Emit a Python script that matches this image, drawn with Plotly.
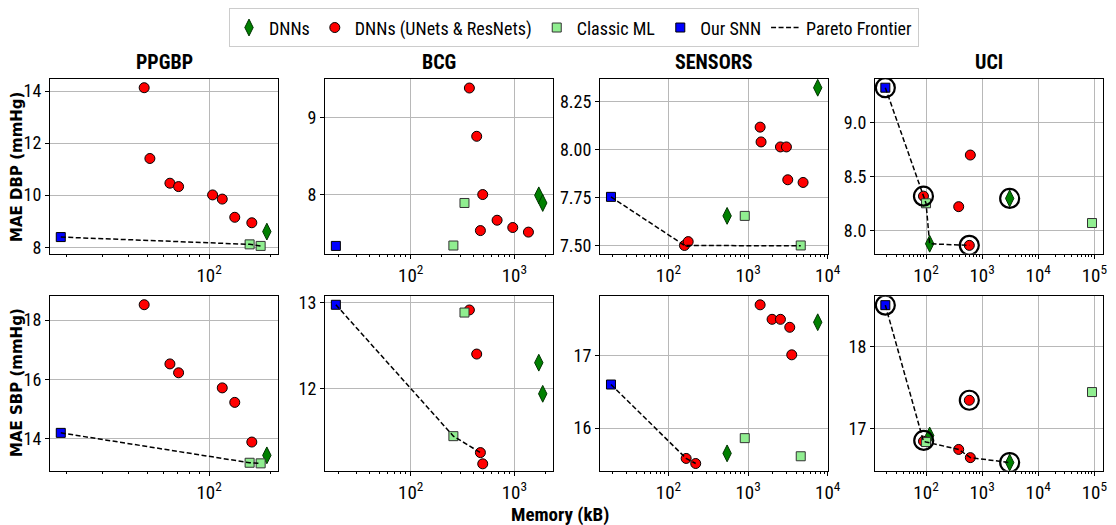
import plotly.graph_objects as go

# ---------------- data (memory in kB, MAE in mmHg) ----------------
datasets = ["PPGBP", "BCG", "SENSORS", "UCI"]

# PPGBP
ppgbp_dnn_mem = [192]
ppgbp_dnn_dbp = [8.60]
ppgbp_dnn_sbp = [13.43]
ppgbp_unet_mem_dbp = [48, 51.2, 64.2, 70.8, 104, 116, 133.6, 162]
ppgbp_unet_dbp = [14.13, 11.41, 10.46, 10.33, 10.01, 9.85, 9.15, 8.94]
ppgbp_unet_mem_sbp = [48, 64.2, 70.8, 116, 133.6, 162]
ppgbp_unet_sbp = [18.52, 16.52, 16.22, 15.71, 15.22, 13.88]
ppgbp_ml_mem = [158, 179]
ppgbp_ml_dbp = [8.11, 8.05]
ppgbp_ml_sbp = [13.18, 13.16]
ppgbp_snn_mem = [18.7]
ppgbp_snn_dbp = [8.39]
ppgbp_snn_sbp = [14.19]
ppgbp_pf_mem_dbp = [18.7, 158, 179]
ppgbp_pf_dbp = [8.39, 8.11, 8.05]
ppgbp_pf_mem_sbp = [18.7, 158, 179]
ppgbp_pf_sbp = [14.19, 13.18, 13.16]

# BCG
bcg_dnn_mem = [1718, 1875]
bcg_dnn_dbp = [7.99, 7.89]
bcg_dnn_sbp = [12.30, 11.94]
bcg_unet_mem_dbp = [368, 433, 495, 681, 964, 1365, 470]
bcg_unet_dbp = [9.39, 8.76, 8.00, 7.665, 7.57, 7.51, 7.53]
bcg_unet_mem_sbp = [368, 433, 470, 495]
bcg_unet_sbp = [12.91, 12.40, 11.26, 11.13]
bcg_ml_mem = [330, 258]
bcg_ml_dbp = [7.89, 7.335]
bcg_ml_sbp = [12.88, 11.45]
bcg_snn_mem = [19]
bcg_snn_dbp = [7.33]
bcg_snn_sbp = [12.97]
bcg_pf_mem_dbp = []
bcg_pf_dbp = []
bcg_pf_mem_sbp = [19, 258, 470]
bcg_pf_sbp = [12.97, 11.45, 11.26]

# SENSORS
sensors_dnn_mem = [7480, 545]
sensors_dnn_dbp = [8.323, 7.656]
sensors_dnn_sbp = [17.46, 15.65]
sensors_unet_mem_dbp = [1416, 1455, 2547, 3027, 3147, 4900, 159, 177]
sensors_unet_dbp = [8.118, 8.041, 8.015, 8.015, 7.844, 7.83, 7.502, 7.522]
sensors_unet_mem_sbp = [1416, 2000, 2547, 3334, 3532, 167, 220]
sensors_unet_sbp = [17.70, 17.50, 17.50, 17.39, 17.01, 15.58, 15.51]
sensors_ml_mem = [908, 4580]
sensors_ml_dbp = [7.656, 7.502]
sensors_ml_sbp = [15.86, 15.61]
sensors_snn_mem = [19]
sensors_snn_dbp = [7.755]
sensors_snn_sbp = [16.60]
sensors_pf_mem_dbp = [19, 159, 4580]
sensors_pf_dbp = [7.755, 7.502, 7.500]
sensors_pf_mem_sbp = [19, 167, 220]
sensors_pf_sbp = [16.60, 15.58, 15.51]

# UCI
uci_dnn_mem = [116, 3097]
uci_dnn_dbp = [7.882, 8.30]
uci_dnn_sbp = [16.92, 16.59]
uci_unet_mem_dbp = [90, 591, 616, 382]
uci_unet_dbp = [8.321, 7.867, 8.70, 8.224]
uci_unet_mem_sbp = [90, 591, 616, 382]
uci_unet_sbp = [16.85, 17.35, 16.65, 16.75]
uci_ml_mem = [100, 91000]
uci_ml_dbp = [8.255, 8.073]
uci_ml_sbp = [16.84, 17.45]
uci_snn_mem = [18.8]
uci_snn_dbp = [9.321]
uci_snn_sbp = [18.51]
uci_pf_mem_dbp = [18.8, 90, 100, 116, 591]
uci_pf_dbp = [9.321, 8.321, 8.255, 7.882, 7.867]
uci_pf_mem_sbp = [18.8, 90, 100, 382, 616, 3097]
uci_pf_sbp = [18.51, 16.85, 16.84, 16.75, 16.65, 16.59]
uci_ring_mem_dbp = [18.8, 90, 3097, 591]
uci_ring_dbp = [9.321, 8.321, 8.30, 7.867]
uci_ring_mem_sbp = [18.8, 91, 591, 3097]
uci_ring_sbp = [18.51, 16.86, 17.35, 16.59]

# axis ranges (log10 of memory for x)
x_ranges = [[1.219, 2.338], [1.174, 3.372], [1.141, 4.003], [1.09, 5.155]]
y_ranges_dbp = [[7.75, 14.46], [7.228, 9.506], [7.459, 8.368], [7.79, 9.40]]
y_ranges_sbp = [[12.91, 18.81], [11.05, 13.07], [15.41, 17.82], [16.49, 18.62]]
y_ticks_dbp = [[8, 10, 12, 14], [8, 9], [7.5, 7.75, 8.0, 8.25], [8.0, 8.5, 9.0]]
y_ticks_sbp = [[14, 16, 18], [12, 13], [16, 17], [17, 18]]
y_fmt_dbp = ["d", "d", ".2f", ".1f"]
y_fmt_sbp = ["d", "d", "d", "d"]

x_tick_vals = [10, 100, 1000, 10000, 100000]
x_tick_text = ["10<sup>1</sup>", "10<sup>2</sup>", "10<sup>3</sup>", "10<sup>4</sup>", "10<sup>5</sup>"]

data = {
    "PPGBP": dict(
        dnn_mem=ppgbp_dnn_mem, dnn=(ppgbp_dnn_dbp, ppgbp_dnn_sbp),
        unet_mem=(ppgbp_unet_mem_dbp, ppgbp_unet_mem_sbp), unet=(ppgbp_unet_dbp, ppgbp_unet_sbp),
        ml_mem=ppgbp_ml_mem, ml=(ppgbp_ml_dbp, ppgbp_ml_sbp),
        snn_mem=ppgbp_snn_mem, snn=(ppgbp_snn_dbp, ppgbp_snn_sbp),
        pf_mem=(ppgbp_pf_mem_dbp, ppgbp_pf_mem_sbp), pf=(ppgbp_pf_dbp, ppgbp_pf_sbp),
        ring_mem=([], []), ring=([], [])),
    "BCG": dict(
        dnn_mem=bcg_dnn_mem, dnn=(bcg_dnn_dbp, bcg_dnn_sbp),
        unet_mem=(bcg_unet_mem_dbp, bcg_unet_mem_sbp), unet=(bcg_unet_dbp, bcg_unet_sbp),
        ml_mem=bcg_ml_mem, ml=(bcg_ml_dbp, bcg_ml_sbp),
        snn_mem=bcg_snn_mem, snn=(bcg_snn_dbp, bcg_snn_sbp),
        pf_mem=(bcg_pf_mem_dbp, bcg_pf_mem_sbp), pf=(bcg_pf_dbp, bcg_pf_sbp),
        ring_mem=([], []), ring=([], [])),
    "SENSORS": dict(
        dnn_mem=sensors_dnn_mem, dnn=(sensors_dnn_dbp, sensors_dnn_sbp),
        unet_mem=(sensors_unet_mem_dbp, sensors_unet_mem_sbp), unet=(sensors_unet_dbp, sensors_unet_sbp),
        ml_mem=sensors_ml_mem, ml=(sensors_ml_dbp, sensors_ml_sbp),
        snn_mem=sensors_snn_mem, snn=(sensors_snn_dbp, sensors_snn_sbp),
        pf_mem=(sensors_pf_mem_dbp, sensors_pf_mem_sbp), pf=(sensors_pf_dbp, sensors_pf_sbp),
        ring_mem=([], []), ring=([], [])),
    "UCI": dict(
        dnn_mem=uci_dnn_mem, dnn=(uci_dnn_dbp, uci_dnn_sbp),
        unet_mem=(uci_unet_mem_dbp, uci_unet_mem_sbp), unet=(uci_unet_dbp, uci_unet_sbp),
        ml_mem=uci_ml_mem, ml=(uci_ml_dbp, uci_ml_sbp),
        snn_mem=uci_snn_mem, snn=(uci_snn_dbp, uci_snn_sbp),
        pf_mem=(uci_pf_mem_dbp, uci_pf_mem_sbp), pf=(uci_pf_dbp, uci_pf_sbp),
        ring_mem=(uci_ring_mem_dbp, uci_ring_mem_sbp), ring=(uci_ring_dbp, uci_ring_sbp)),
}

# ---------------- layout geometry ----------------
# the page body has an 8px margin, so the figure is drawn 8px smaller and
# every screen position is shifted by that margin
OFF = 8
W, H = 1116 - OFF, 525 - OFF
x_px = [(50, 278), (325, 553), (600, 828), (875, 1103)]
y_px = [(73, 250), (293, 470)]


def px_x(p):
    return (p - OFF) / W


def px_y(p):
    return 1 - (p - OFF) / H


NARROW = "Liberation Sans Narrow, Roboto Condensed, DejaVu Sans Condensed, Arial Narrow, sans-serif"
XTICKFONT = dict(family=NARROW, size=19, color="black")
YTICKFONT = dict(family=NARROW, size=18, color="black")

fig = go.Figure()
minor_vals = [k * 10 ** e for e in range(1, 6) for k in range(2, 10)]

layout = dict(width=W, height=H, margin=dict(l=0, r=0, t=0, b=0),
              paper_bgcolor="white", plot_bgcolor="white", showlegend=True)

legend_done = set()

for row in range(2):
    for col, ds in enumerate(datasets):
        idx = row * 4 + col + 1
        xa = "x" if idx == 1 else f"x{idx}"
        ya = "y" if idx == 1 else f"y{idx}"
        d = data[ds]
        m = row  # 0: DBP, 1: SBP

        def add(name, x, y, **kw):
            show = name not in legend_done
            if show:
                legend_done.add(name)
            fig.add_trace(go.Scatter(x=x, y=y, xaxis=xa, yaxis=ya, name=name,
                                     showlegend=show, legendgroup=name, **kw))

        add("DNNs", d["dnn_mem"], d["dnn"][m], mode="markers",
            marker=dict(symbol="diamond-tall", size=12, color="green",
                        line=dict(color="#003300", width=1)))
        add("DNNs (UNets & ResNets)", d["unet_mem"][m], d["unet"][m], mode="markers",
            marker=dict(symbol="circle", size=10, color="red", line=dict(color="black", width=1)))
        add("Classic ML", d["ml_mem"], d["ml"][m], mode="markers",
            marker=dict(symbol="square", size=9, color="lightgreen", line=dict(color="#333333", width=1)))
        add("Our SNN", d["snn_mem"], d["snn"][m], mode="markers",
            marker=dict(symbol="square", size=9, color="blue", line=dict(color="black", width=1)))
        if len(d["pf_mem"][m]) > 0:
            add("Pareto Frontier", d["pf_mem"][m], d["pf"][m], mode="lines",
                line=dict(color="black", width=1.5, dash="5px,2.5px"))
        if len(d["ring_mem"][m]) > 0:
            fig.add_trace(go.Scatter(x=d["ring_mem"][m], y=d["ring"][m], xaxis=xa, yaxis=ya,
                                     mode="markers", showlegend=False, hoverinfo="skip",
                                     marker=dict(symbol="circle-open", size=19, color="black",
                                                 line=dict(width=2.2, color="black"))))

        x0, x1 = x_px[col]
        y0, y1 = y_px[row]
        yr = (y_ranges_dbp if row == 0 else y_ranges_sbp)[col]
        yt = (y_ticks_dbp if row == 0 else y_ticks_sbp)[col]
        yf = (y_fmt_dbp if row == 0 else y_fmt_sbp)[col]
        layout["xaxis" if idx == 1 else f"xaxis{idx}"] = dict(
            type="log", range=x_ranges[col], domain=[px_x(x0), px_x(x1)], anchor=ya,
            tickvals=x_tick_vals, ticktext=x_tick_text, tickfont=XTICKFONT,
            ticks="outside", ticklen=4, tickcolor="black",
            showgrid=True, gridcolor="#b8b8b8", gridwidth=1,
            showline=True, mirror=True, linecolor="black", linewidth=1,
            zeroline=False, automargin=False,
            minor=dict(tickvals=minor_vals, ticks="outside", ticklen=2, tickcolor="black", showgrid=False))
        layout["yaxis" if idx == 1 else f"yaxis{idx}"] = dict(
            range=yr, domain=[px_y(y1), px_y(y0)], anchor=xa,
            tickvals=yt, tickformat=yf, tickfont=YTICKFONT,
            ticks="outside", ticklen=4, tickcolor="black",
            showgrid=True, gridcolor="#b8b8b8", gridwidth=1,
            showline=True, mirror=True, linecolor="black", linewidth=1,
            zeroline=False, automargin=False)

annotations = []
for col, ds in enumerate(datasets):
    x0, x1 = x_px[col]
    annotations.append(dict(text=f"<b>{ds}</b>", x=px_x((x0 + x1) / 2), y=px_y(56),
                            xref="paper", yref="paper", showarrow=False,
                            font=dict(family=NARROW, size=20, color="black"),
                            xanchor="center", yanchor="middle"))
annotations.append(dict(text="<b>MAE DBP (mmHg)</b>", x=px_x(17), y=px_y(162), xref="paper", yref="paper",
                        showarrow=False, textangle=-90, xanchor="center", yanchor="middle", borderpad=0,
                        font=dict(family="DejaVu Sans", size=15, color="black")))
annotations.append(dict(text="<b>MAE SBP (mmHg)</b>", x=px_x(17), y=px_y(381), xref="paper", yref="paper",
                        showarrow=False, textangle=-90, xanchor="center", yanchor="middle", borderpad=0,
                        font=dict(family="DejaVu Sans", size=15, color="black")))
annotations.append(dict(text="<b>Memory (kB)</b>", x=px_x(560), y=px_y(514), xref="paper", yref="paper",
                        showarrow=False, xanchor="center", yanchor="middle", borderpad=0,
                        font=dict(family=NARROW, size=19, color="black")))
layout["annotations"] = annotations
layout["legend"] = dict(orientation="h", x=px_x(574), y=px_y(21), xanchor="center", yanchor="middle",
                        bgcolor="white", bordercolor="#cccccc", borderwidth=1,
                        font=dict(family=NARROW, size=18, color="black"),
                        itemwidth=30, tracegroupgap=0)

fig.update_layout(**layout)
fig.write_html("out.html")
